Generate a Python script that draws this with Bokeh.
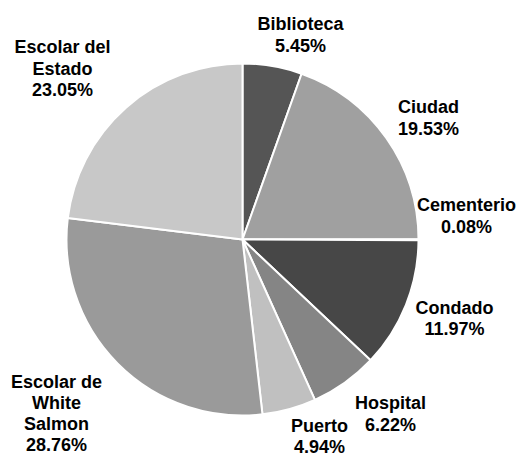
import math
from bokeh.plotting import figure
from bokeh.models import Range1d, ColumnDataSource
from bokeh.core.properties import value
from bokeh.embed import file_html
from bokeh.resources import INLINE

# ---- data ----
categories = ["Biblioteca", "Ciudad", "Cementerio", "Condado", "Hospital",
              "Puerto", "Escolar de\nWhite\nSalmon", "Escolar del\nEstado"]
shares = [5.45, 19.53, 0.08, 11.97, 6.22, 4.94, 28.76, 23.05]
colors = ["#555555", "#a0a0a0", "#8a8a8a", "#474747", "#858585",
          "#c0c0c0", "#9a9a9a", "#c8c8c8"]

# ---- layout (page pixels) ----
CX, CY, R = 242, 239, 176
label_pos = [(300, 34.5), (428, 117.5), (466, 215.5), (454, 318),
             (390, 413.5), (319, 436), (56, 413), (62, 68)]
LINE_H = 21.3

W, H = 526, 457
p = figure(width=W, height=H, output_backend="svg", toolbar_location=None,
           x_range=Range1d(0, W), y_range=Range1d(-H, 0),
           x_axis_location=None, y_axis_location=None, min_border=0)
p.grid.visible = False
p.outline_line_color = None
p.background_fill_color = "white"
p.border_fill_color = "white"

total = sum(shares)
starts, ends = [], []
cum = 0.0
for s in shares:
    a0 = math.pi / 2 - 2 * math.pi * cum / total
    cum += s
    a1 = math.pi / 2 - 2 * math.pi * cum / total
    starts.append(a1)
    ends.append(a0)

src = ColumnDataSource(dict(x=[CX] * len(shares), y=[-CY] * len(shares),
                            start=starts, end=ends, color=colors))
p.wedge(x="x", y="y", radius=R, start_angle="start", end_angle="end",
        direction="anticlock", fill_color="color", line_color="white",
        line_width=2, source=src)

tx, ty, tt = [], [], []
for name, s, (lx, ly) in zip(categories, shares, label_pos):
    lines = name.split("\n") + ["%.2f%%" % s]
    n = len(lines)
    for i, ln in enumerate(lines):
        tx.append(lx)
        ty.append(-(ly + (i - (n - 1) / 2) * LINE_H))
        tt.append(ln)

p.text(x=tx, y=ty, text=tt, text_align="center", text_baseline="middle",
       text_font=value("Liberation Sans"), text_font_style="bold",
       text_font_size="18px", text_color="#000000")

open("out.html", "w").write(file_html(p, INLINE))
